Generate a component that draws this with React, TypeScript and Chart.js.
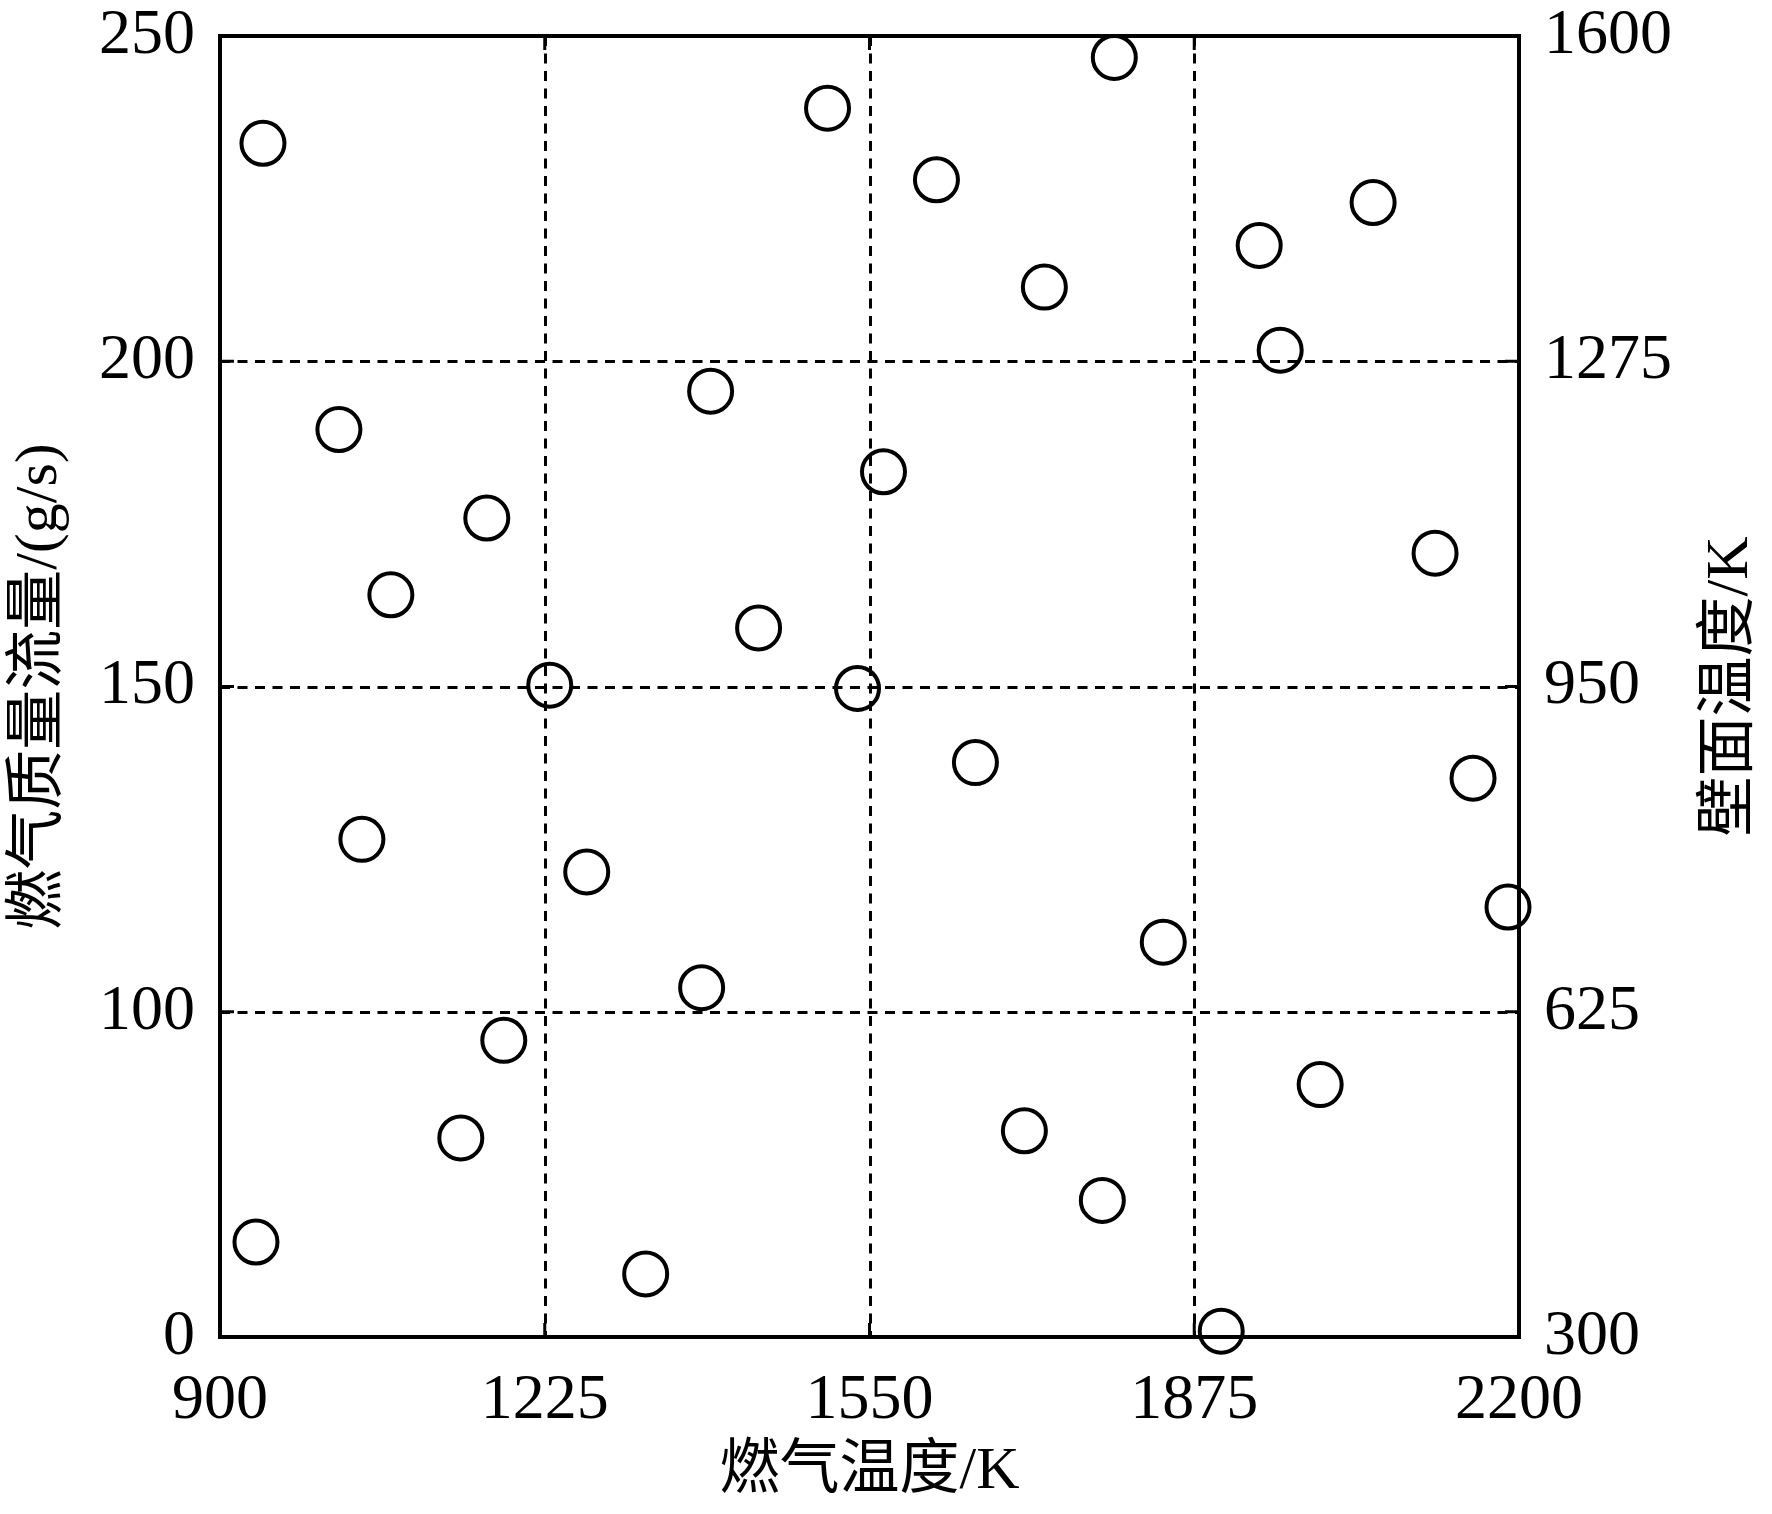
import React, { useEffect, useRef } from "react";
import { Chart, registerables } from "chart.js";

Chart.register(...registerables);

// 燃气温度 (K)
const gasTemperature = [
  943, 1508, 1795, 1617, 2054, 1940, 1725, 1961, 1391, 1019, 1564, 1167, 2116, 1071, 1439, 1230,
  1538, 1656, 2154, 1042, 1267, 2189, 1844, 1382, 1184, 2001, 1141, 1705, 1783, 936, 1326, 1902,
];
// 燃气质量流量 (g/s), on the left axis as drawn (bottom gridline labelled "0")
const massFlow = [
  233.5, 238.9, 246.7, 227.9, 224.4, 217.8, 211.4, 201.7, 195.4, 189.5, 183.0, 175.9, 170.5, 164.1, 159.0, 150.2,
  149.7, 138.3, 135.9, 126.5, 121.5, 116.1, 110.7, 103.7, 95.6, 88.8, 80.6, 81.7, 71.0, 64.6, 59.7, 50.9,
];

const xTicks = [900, 1225, 1550, 1875, 2200];
const yTicks = [50, 100, 150, 200, 250];
const yTickLabels = ["0", "100", "150", "200", "250"];
const y2Ticks = [300, 625, 950, 1275, 1600];

const xTitle = "燃气温度/K";
const yTitle = "燃气质量流量/(g/s)";
const y2Title = "壁面温度/K";

const FONT = "'Liberation Serif', 'Times New Roman', 'Noto Sans CJK SC', serif";

const framePlugin = {
  id: "frame",
  beforeDatasetsDraw(chart: any) {
    const { ctx, chartArea, scales } = chart;
    const { left, right, top, bottom } = chartArea;
    ctx.save();
    // dashed grid
    ctx.strokeStyle = "#000";
    ctx.lineWidth = 3;
    ctx.setLineDash([10, 7.5]);
    xTicks.slice(1, -1).forEach((v) => {
      const x = Math.round(scales.x.getPixelForValue(v)) + 0.5;
      ctx.beginPath();
      ctx.moveTo(x, top);
      ctx.lineTo(x, bottom);
      ctx.stroke();
    });
    yTicks.slice(1, -1).forEach((v) => {
      const y = Math.round(scales.y.getPixelForValue(v)) + 0.5;
      ctx.beginPath();
      ctx.moveTo(left, y);
      ctx.lineTo(right, y);
      ctx.stroke();
    });
    ctx.setLineDash([]);
    // inward ticks
    ctx.lineWidth = 3;
    const tl = 14;
    xTicks.forEach((v) => {
      const x = scales.x.getPixelForValue(v);
      ctx.beginPath();
      ctx.moveTo(x, bottom);
      ctx.lineTo(x, bottom - tl);
      ctx.moveTo(x, top);
      ctx.lineTo(x, top + tl);
      ctx.stroke();
    });
    yTicks.forEach((v) => {
      const y = scales.y.getPixelForValue(v);
      ctx.beginPath();
      ctx.moveTo(left, y);
      ctx.lineTo(left + tl, y);
      ctx.stroke();
    });
    y2Ticks.forEach((v) => {
      const y = scales.y2.getPixelForValue(v);
      ctx.beginPath();
      ctx.moveTo(right, y);
      ctx.lineTo(right - tl, y);
      ctx.stroke();
    });
    // frame
    ctx.lineWidth = 4;
    ctx.lineJoin = "miter";
    ctx.strokeRect(left, top, right - left, bottom - top);
    // right title (reads bottom-to-top)
    ctx.fillStyle = "#000";
    ctx.font = `60px ${FONT}`;
    ctx.textAlign = "center";
    ctx.textBaseline = "middle";
    ctx.translate(1731, (top + bottom) / 2);
    ctx.rotate(-Math.PI / 2);
    ctx.fillText(y2Title, 0, 0);
    ctx.restore();
  },
};

const noOverflow = (s: any) => {
  s.paddingTop = 0;
  s.paddingBottom = 0;
  s.paddingLeft = 0;
  s.paddingRight = 0;
};

export default function App() {
  const ref = useRef<HTMLCanvasElement | null>(null);
  useEffect(() => {
    document.body.style.margin = "0";
    const canvas = ref.current!;
    const points = gasTemperature.map((x, i) => ({ x, y: massFlow[i] }));
    const tickFont = { family: FONT, size: 64 };
    const chart = new Chart(canvas, {
      type: "scatter",
      data: {
        datasets: [
          {
            data: points,
            pointStyle: "circle",
            pointRadius: 21.5,
            pointHoverRadius: 21.5,
            pointBorderWidth: 4,
            borderColor: "#000",
            backgroundColor: "rgba(0,0,0,0)",
            clip: false as any,
          },
        ],
      },
      plugins: [framePlugin],
      options: {
        responsive: false,
        animation: false,
        devicePixelRatio: 1,
        layout: { padding: { top: 36, left: 0, right: 0, bottom: 0 } },
        plugins: { legend: { display: false }, tooltip: { enabled: false } },
        scales: {
          x: {
            type: "linear",
            min: 900,
            max: 2200,
            afterBuildTicks: (s: any) => {
              s.ticks = xTicks.map((v) => ({ value: v }));
            },
            grid: { display: false, drawTicks: false },
            border: { display: false },
            ticks: {
              color: "#000",
              font: tickFont,
              padding: 26,
              maxRotation: 0,
              autoSkip: false,
              callback: (v: any) => String(v),
            },
            title: {
              display: true,
              text: xTitle,
              color: "#000",
              font: { family: FONT, size: 60 },
              padding: { top: 0, bottom: 6 },
            },
            afterFit: (s: any) => {
              s.height = 177;
              noOverflow(s);
            },
          },
          y: {
            type: "linear",
            position: "left",
            min: 50,
            max: 250,
            afterBuildTicks: (s: any) => {
              s.ticks = yTicks.map((v) => ({ value: v }));
            },
            grid: { display: false, drawTicks: false },
            border: { display: false },
            ticks: {
              color: "#000",
              font: tickFont,
              padding: 25,
              autoSkip: false,
              callback: (v: any) => {
                const i = yTicks.indexOf(Number(v));
                return i >= 0 ? yTickLabels[i] : "";
              },
            },
            title: {
              display: true,
              text: yTitle,
              color: "#000",
              font: { family: FONT, size: 60 },
              padding: { top: 4, bottom: 0 },
            },
            afterFit: (s: any) => {
              s.width = 220;
              noOverflow(s);
            },
          },
          y2: {
            type: "linear",
            position: "right",
            min: 300,
            max: 1600,
            afterBuildTicks: (s: any) => {
              s.ticks = y2Ticks.map((v) => ({ value: v }));
            },
            grid: { display: false, drawTicks: false },
            border: { display: false },
            ticks: {
              color: "#000",
              font: tickFont,
              padding: 25,
              autoSkip: false,
              callback: (v: any) => String(v),
            },
            afterFit: (s: any) => {
              s.width = 253;
              noOverflow(s);
            },
          },
        },
      } as any,
    });
    return () => chart.destroy();
  }, []);
  return (
    <div style={{ position: "absolute", left: 0, top: 0, width: 1772, height: 1514, background: "#fff" }}>
      <canvas ref={ref} width={1772} height={1514} style={{ width: 1772, height: 1514 }} />
    </div>
  );
}
